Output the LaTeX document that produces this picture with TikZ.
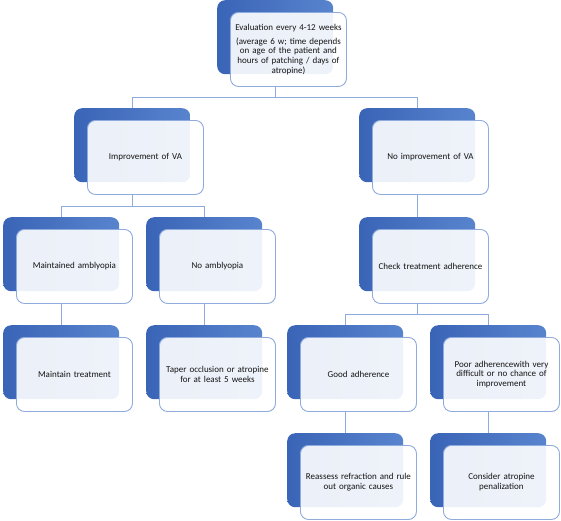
\documentclass[tikz,border=0pt]{standalone}
\usepackage{fontspec}
\setmainfont{Carlito}
\usepackage{tikz}
\usetikzlibrary{positioning}
\definecolor{boxline}{RGB}{143,170,220}
\definecolor{darkblue}{RGB}{58,100,182}
\definecolor{lightblue}{RGB}{88,132,206}
\definecolor{boxtext}{RGB}{20,20,20}
\tikzstyle{back}=[anchor=north west,draw=none,rounded corners=8pt,
               left color=darkblue,right color=lightblue,
               minimum width=116pt,minimum height=74pt,inner sep=0pt]
\tikzstyle{front}=[draw=boxline,line width=0.9pt,rounded corners=8pt,
               fill=white,fill opacity=0.9,text opacity=1,text=boxtext,
               minimum width=116pt,minimum height=74pt,inner sep=2pt,
               text width=110pt,align=center,
               font=\fontsize{9}{9.8}\selectfont]
\tikzstyle{link}=[draw=boxline,line width=0.8pt]

\begin{document}
\begin{tikzpicture}[x=1pt,y=-1pt]
\useasboundingbox (0,0) rectangle (561,520);
\def \dx {13pt}
\def \dy {12pt}

% blue back tiles
\foreach \n/\x/\y in {top/217/0, imp/74/108, noimp/359/108,
    maint/3/217, noamb/146/217, check/359/217,
    mtreat/3/325, taper/146/325, good/287/325, poor/430/325,
    reass/287/433, atro/430/433}
  \node[back] (\n-b) at (\x,\y) {};

% front tiles
\node[front, below right=\dy and \dx of top-b.north west] (top)
  {Evaluation every 4-12 weeks\\[4pt](average 6 w; time depends\\on age of the patient and\\hours of patching / days of\\atropine)};
\node[front, below right=\dy and \dx of imp-b.north west] (imp) {Improvement of VA};
\node[front, below right=\dy and \dx of noimp-b.north west] (noimp) {No improvement of VA};
\node[front, below right=\dy and \dx of maint-b.north west] (maint) {Maintained amblyopia};
\node[front, below right=\dy and \dx of noamb-b.north west] (noamb) {No amblyopia};
\node[front, below right=\dy and \dx of check-b.north west] (check) {Check treatment adherence};
\node[front, below right=\dy and \dx of mtreat-b.north west] (mtreat) {Maintain treatment};
\node[front, below right=\dy and \dx of taper-b.north west] (taper)
  {Taper occlusion or atropine\\for at least 5 weeks};
\node[front, below right=\dy and \dx of good-b.north west] (good) {Good adherence};
\node[front, below right=\dy and \dx of poor-b.north west] (poor)
  {Poor adherencewith very\\difficult or no chance of\\improvement};
\node[front, below right=\dy and \dx of reass-b.north west] (reass)
  {Reassess refraction and rule\\out organic causes};
\node[front, below right=\dy and \dx of atro-b.north west] (atro)
  {Consider atropine\\penalization};

% connectors
\coordinate (bus1) at (0,97.5);
\coordinate (bus2) at (0,206);
\coordinate (bus3) at (0,314);
\draw[link] (top-b.south |- top.south) -- (top-b.south |- bus1) -| (imp-b.north);
\draw[link] (top-b.south |- bus1) -| (noimp-b.north);
\draw[link] (imp-b.south |- imp.south) -- (imp-b.south |- bus2) -| (maint-b.north);
\draw[link] (imp-b.south |- bus2) -| (noamb-b.north);
\draw[link] (noimp-b.south |- noimp.south) -- (check-b.north);
\draw[link] (check-b.south |- check.south) -- (check-b.south |- bus3) -| (good-b.north);
\draw[link] (check-b.south |- bus3) -| (poor-b.north);
\draw[link] (maint-b.south |- maint.south) -- (mtreat-b.north);
\draw[link] (noamb-b.south |- noamb.south) -- (taper-b.north);
\draw[link] (good-b.south |- good.south) -- (reass-b.north);
\draw[link] (poor-b.south |- poor.south) -- (atro-b.north);
\end{tikzpicture}
\end{document}
